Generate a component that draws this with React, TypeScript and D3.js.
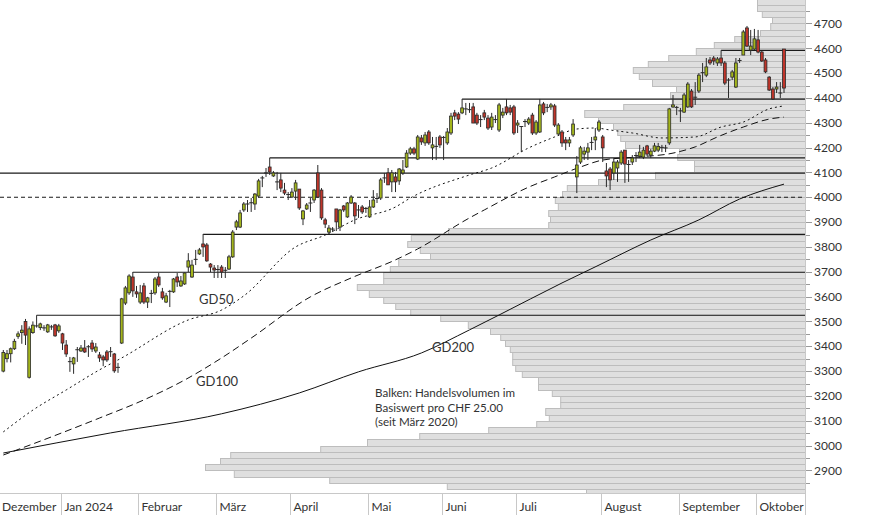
import React, { useEffect, useRef } from 'react';
import * as d3 from 'd3';

// open, high, low, close (CHF), one entry per trading day, Dec 2023 .. Oct 2024
type Candle = [number, number, number, number];

const candles: Candle[] = [
  [3300, 3385, 3295, 3375], [3350, 3385, 3335, 3370], [3370, 3395, 3335, 3390], [3390, 3430, 3385, 3420],
  [3440, 3460, 3430, 3450], [3455, 3485, 3410, 3465], [3500, 3510, 3405, 3445], [3275, 3480, 3270, 3470],
  [3455, 3500, 3450, 3485], [3480, 3525, 3475, 3482], [3475, 3495, 3465, 3490], [3475, 3485, 3462, 3474],
  [3458, 3490, 3454, 3486], [3476, 3486, 3466, 3478], [3486, 3490, 3438, 3442], [3462, 3490, 3454, 3482],
  [3450, 3454, 3385, 3413], [3405, 3425, 3357, 3369], [3340, 3357, 3297, 3338], [3329, 3357, 3289, 3353],
  [3384, 3397, 3337, 3386], [3381, 3405, 3377, 3393], [3393, 3425, 3373, 3377], [3396, 3405, 3357, 3398],
  [3413, 3425, 3377, 3389], [3381, 3413, 3373, 3397], [3365, 3377, 3337, 3353], [3357, 3365, 3320, 3345],
  [3377, 3385, 3337, 3345], [3380, 3397, 3357, 3378], [3369, 3373, 3293, 3301], [3313, 3333, 3293, 3315],
  [3413, 3595, 3409, 3591], [3574, 3643, 3566, 3635], [3615, 3690, 3607, 3683], [3679, 3699, 3599, 3623],
  [3619, 3643, 3595, 3611], [3578, 3647, 3570, 3615], [3643, 3655, 3570, 3578], [3578, 3599, 3554, 3595],
  [3611, 3627, 3574, 3613], [3615, 3679, 3607, 3671], [3679, 3695, 3639, 3647], [3619, 3635, 3587, 3595],
  [3578, 3615, 3574, 3603], [3619, 3627, 3558, 3621], [3619, 3675, 3615, 3671], [3679, 3695, 3639, 3659],
  [3643, 3683, 3639, 3663], [3651, 3697, 3647, 3695], [3719, 3775, 3699, 3744], [3679, 3748, 3675, 3727],
  [3746, 3788, 3727, 3750], [3772, 3796, 3768, 3788], [3812, 3852, 3760, 3800], [3808, 3816, 3740, 3744],
  [3731, 3735, 3699, 3719], [3715, 3727, 3675, 3707], [3707, 3727, 3675, 3709], [3719, 3727, 3675, 3699],
  [3708, 3719, 3675, 3706], [3711, 3768, 3707, 3760], [3760, 3868, 3756, 3860], [3880, 3909, 3868, 3901],
  [3880, 3949, 3876, 3937], [3949, 3981, 3941, 3973], [3971, 3989, 3941, 3973], [3975, 3997, 3941, 3978],
  [3973, 4017, 3949, 4013], [4005, 4074, 3997, 4066], [4076, 4086, 4041, 4078], [4096, 4118, 4082, 4098],
  [4122, 4159, 4090, 4102], [4086, 4106, 4082, 4098], [4060, 4102, 4029, 4062], [4070, 4098, 4021, 4037],
  [4029, 4058, 4009, 4017], [4013, 4021, 3989, 4011], [4001, 4037, 3997, 4021], [4025, 4070, 3989, 4058],
  [4033, 4033, 3949, 3957], [3913, 3949, 3888, 3945], [3953, 3977, 3949, 3969], [3975, 3997, 3941, 3977],
  [3989, 4033, 3977, 4029], [4098, 4130, 3997, 4001], [4029, 4037, 3909, 3917], [3909, 3917, 3876, 3892],
  [3860, 3888, 3852, 3876], [3870, 3880, 3860, 3872], [3953, 3953, 3864, 3901], [3880, 3953, 3864, 3949],
  [3965, 3969, 3941, 3949], [3921, 3981, 3917, 3977], [3977, 4009, 3973, 4001], [3977, 3981, 3892, 3925],
  [3947, 3969, 3917, 3949], [3961, 3969, 3933, 3941], [3953, 3961, 3937, 3955], [3921, 3989, 3917, 3961],
  [3961, 4029, 3957, 3989], [3993, 4017, 3977, 3995], [3997, 4078, 3989, 4070], [4076, 4098, 4058, 4078],
  [4098, 4118, 4050, 4050], [4062, 4110, 4021, 4098], [4082, 4102, 4021, 4062], [4066, 4118, 4050, 4114],
  [4098, 4150, 4090, 4110], [4122, 4190, 4118, 4178], [4178, 4203, 4170, 4195], [4195, 4203, 4170, 4178],
  [4154, 4251, 4150, 4243], [4239, 4251, 4211, 4223], [4219, 4263, 4207, 4251], [4263, 4271, 4211, 4219],
  [4199, 4243, 4150, 4211], [4203, 4243, 4150, 4205], [4243, 4251, 4199, 4211], [4239, 4247, 4150, 4241],
  [4219, 4279, 4211, 4263], [4259, 4340, 4251, 4327], [4340, 4352, 4311, 4327], [4335, 4343, 4295, 4315],
  [4340, 4396, 4335, 4360], [4354, 4380, 4331, 4356], [4355, 4380, 4340, 4353], [4364, 4380, 4299, 4299],
  [4331, 4340, 4291, 4299], [4311, 4331, 4283, 4313], [4340, 4352, 4311, 4323], [4319, 4331, 4271, 4279],
  [4283, 4340, 4271, 4323], [4311, 4331, 4299, 4313], [4271, 4380, 4263, 4372], [4331, 4360, 4319, 4343],
  [4364, 4396, 4331, 4340], [4360, 4372, 4331, 4343], [4364, 4372, 4251, 4259], [4291, 4311, 4259, 4299],
  [4283, 4285, 4182, 4285], [4303, 4315, 4283, 4305], [4299, 4323, 4291, 4315], [4331, 4340, 4251, 4259],
  [4259, 4311, 4251, 4303], [4263, 4396, 4259, 4372], [4376, 4384, 4331, 4340], [4360, 4376, 4343, 4362],
  [4364, 4380, 4352, 4372], [4368, 4376, 4283, 4291], [4255, 4299, 4247, 4291], [4263, 4271, 4203, 4219],
  [4231, 4243, 4190, 4219], [4219, 4243, 4203, 4231], [4251, 4315, 4243, 4295], [4082, 4166, 4017, 4130],
  [4142, 4207, 4134, 4199], [4174, 4203, 4150, 4186], [4182, 4219, 4150, 4199], [4219, 4243, 4190, 4221],
  [4231, 4279, 4190, 4243], [4271, 4311, 4263, 4303], [4243, 4251, 4142, 4199], [4106, 4138, 4041, 4086],
  [4114, 4122, 4029, 4070], [4098, 4158, 4070, 4142], [4118, 4150, 4062, 4142], [4138, 4190, 4130, 4182],
  [4190, 4190, 4058, 4134], [4130, 4150, 4062, 4132], [4142, 4170, 4130, 4158], [4166, 4182, 4142, 4168],
  [4166, 4211, 4158, 4182], [4162, 4203, 4154, 4190], [4207, 4211, 4166, 4174], [4170, 4195, 4158, 4186],
  [4186, 4219, 4182, 4207], [4190, 4219, 4182, 4205], [4199, 4211, 4182, 4201], [4201, 4211, 4182, 4199],
  [4219, 4360, 4211, 4356], [4364, 4412, 4360, 4372], [4364, 4368, 4331, 4362], [4350, 4360, 4303, 4348],
  [4343, 4420, 4340, 4412], [4364, 4464, 4360, 4456], [4428, 4436, 4360, 4364], [4405, 4464, 4372, 4403],
  [4428, 4500, 4420, 4492], [4500, 4541, 4464, 4502], [4492, 4561, 4484, 4525], [4553, 4565, 4533, 4541],
  [4561, 4569, 4533, 4549], [4541, 4565, 4529, 4557], [4561, 4592, 4529, 4541], [4541, 4549, 4452, 4460],
  [4470, 4480, 4400, 4472], [4484, 4513, 4472, 4505], [4444, 4561, 4440, 4541], [4549, 4561, 4541, 4551],
  [4573, 4674, 4573, 4666], [4682, 4690, 4605, 4609], [4593, 4674, 4573, 4609], [4597, 4678, 4593, 4638],
  [4634, 4674, 4580, 4585], [4585, 4589, 4545, 4549], [4553, 4561, 4500, 4505], [4484, 4488, 4428, 4432],
  [4436, 4444, 4392, 4396], [4436, 4464, 4420, 4444], [4418, 4464, 4400, 4420], [4597, 4597, 4420, 4440],
];

const monthLabels = ['Dezember', 'Jan 2024', 'Februar', 'März', 'April', 'Mai', 'Juni', 'Juli', 'August', 'September', 'Oktober'];
const monthStart = [0, 16, 37, 58, 78, 99, 119, 139, 162, 183, 204];

// moving averages at some days
const gd50Idx = [0, 8, 17, 26, 32, 50, 59, 65, 79, 87, 95, 106, 110, 126, 132, 142, 149, 155, 160, 164, 170, 178, 187, 194, 200, 207, 211];
const gd50 = [3055, 3143, 3224, 3305, 3353, 3506, 3546, 3603, 3800, 3848, 3909, 3961, 3997, 4090, 4118, 4199, 4243, 4275, 4279, 4271, 4259, 4239, 4243, 4283, 4303, 4356, 4368];
const gd100Idx = [0, 13, 26, 38, 49, 59, 67, 83, 94, 106, 112, 126, 130, 142, 149, 156, 162, 171, 181, 187, 193, 200, 207, 211];
const gd100 = [2962, 3035, 3111, 3184, 3264, 3353, 3433, 3599, 3675, 3748, 3792, 3917, 3949, 4041, 4082, 4122, 4150, 4162, 4178, 4203, 4243, 4283, 4315, 4323];
const gd200Idx = [0, 29, 59, 80, 96, 113, 126, 134, 151, 161, 175, 188, 199, 211];
const gd200 = [2970, 3051, 3128, 3212, 3297, 3373, 3466, 3526, 3655, 3727, 3828, 3909, 3993, 4053];

// resistance levels starting at a day's high
const levels = [3525, 3698, 3851, 4159, 4395, 4592];
const levelFrom = [9, 35, 54, 72, 124, 194];
const fullLevel = 4097;
const dashedLevel = 4000;

// volume profile, bins of CHF 25 (lower bound), relative volume
const volBins = [
  4775, 4750, 4725, 4700, 4675, 4650, 4625, 4600, 4575, 4550, 4525, 4500, 4475, 4450, 4425, 4400,
  4375, 4350, 4325, 4300, 4275, 4250, 4225, 4200, 4175, 4150, 4125, 4100, 4075, 4050, 4025, 4000,
  3975, 3950, 3925, 3900, 3875, 3850, 3825, 3800, 3775, 3750, 3725, 3700, 3675, 3650, 3625, 3600,
  3575, 3550, 3525, 3500, 3475, 3450, 3425, 3400, 3375, 3350, 3325, 3300, 3275, 3250, 3225, 3200,
  3175, 3150, 3125, 3100, 3075, 3050, 3025, 3000, 2975, 2950, 2925, 2900, 2875, 2850, 2825, 2800,
];
const volumes = [
  8.0, 8.0, 7.2, 5.5, 5.8, 7.5, 11.8, 15.2, 18.2, 22.8, 26.2, 28.7, 27.7, 25.5, 21.5, 22.5,
  22.2, 30.3, 36.8, 34.5, 32.0, 31.3, 30.8, 30.0, 21.0, 21.3, 18.5, 18.5, 25.0, 34.5, 39.7, 40.5,
  41.7, 41.2, 42.8, 42.5, 42.8, 59.5, 65.7, 66.3, 64.2, 62.5, 67.8, 69.2, 70.3, 70.3, 74.7, 72.7,
  70.3, 68.3, 65.8, 60.8, 56.2, 52.5, 50.8, 50.0, 49.2, 48.8, 48.8, 48.3, 47.2, 44.5, 44.5, 42.2,
  40.8, 40.8, 43.3, 42.7, 44.8, 52.8, 64.3, 73.0, 80.8, 95.8, 97.5, 100.0, 95.2, 79.3, 59.7, 36.5,
];

const yLabels = [2900, 3000, 3100, 3200, 3300, 3400, 3500, 3600, 3700, 3800, 3900, 4000, 4100, 4200, 4300, 4400, 4500, 4600, 4700];
const noteLines = ['Balken: Handelsvolumen im', 'Basiswert pro CHF 25.00', '(seit März 2020)'];

const FONT = 'Lato, "Open Sans", sans-serif';

export default function App() {
  const svgRef = useRef<SVGSVGElement>(null);

  useEffect(() => {
    if (!svgRef.current) return;
    const svg = d3.select(svgRef.current);
    svg.selectAll('*').remove();

    const plotR = 805;
    const plotB = 493;

    const x = d3.scaleLinear().domain([0, candles.length - 1]).range([3.3, 784]);
    const step = x(1) - x(0);
    const y = d3.scaleLinear().domain([2809, 4794.6]).range([plotB, 0]);
    const vx = d3.scaleLinear().domain([0, 100]).range([plotR, plotR - 600]);

    svg.append('rect').attr('width', 874).attr('height', 515).attr('fill', '#fff');

    svg
      .append('defs')
      .append('clipPath')
      .attr('id', 'plot')
      .append('rect')
      .attr('width', plotR)
      .attr('height', plotB);

    const plot = svg.append('g').attr('clip-path', 'url(#plot)');

    // volume profile
    plot
      .append('g')
      .selectAll('rect')
      .data(volBins)
      .enter()
      .append('rect')
      .attr('x', (d, i) => vx(volumes[i]) + 0.5)
      .attr('y', (d) => Math.round(y(d + 25)) + 0.5)
      .attr('width', (d, i) => plotR - vx(volumes[i]))
      .attr('height', (d) => Math.round(y(d)) - Math.round(y(d + 25)))
      .attr('fill', '#dfdfdf')
      .attr('stroke', '#bdbdbd')
      .attr('stroke-width', 1);

    // levels
    plot
      .append('line')
      .attr('x1', 0)
      .attr('x2', plotR)
      .attr('y1', y(fullLevel))
      .attr('y2', y(fullLevel))
      .attr('stroke', '#1a1a1a')
      .attr('stroke-width', 1.2);
    plot
      .append('line')
      .attr('x1', 0)
      .attr('x2', plotR)
      .attr('y1', y(dashedLevel))
      .attr('y2', y(dashedLevel))
      .attr('stroke', '#1a1a1a')
      .attr('stroke-width', 1.1)
      .attr('stroke-dasharray', '4,3');
    levels.forEach((lv, i) => {
      plot
        .append('line')
        .attr('x1', x(levelFrom[i]))
        .attr('x2', plotR)
        .attr('y1', y(lv))
        .attr('y2', y(lv))
        .attr('stroke', '#1a1a1a')
        .attr('stroke-width', 1.2);
    });

    // moving averages
    const maLine = (idx: number[], vals: number[], dash: string | null) => {
      const pts = idx.map((d, i) => [x(d), y(vals[i])] as [number, number]);
      plot
        .append('path')
        .datum(pts)
        .attr('fill', 'none')
        .attr('stroke', '#111')
        .attr('stroke-width', 1)
        .attr('stroke-dasharray', dash)
        .attr('d', d3.line().curve(d3.curveMonotoneX));
    };
    maLine(gd200Idx, gd200, null);
    maLine(gd100Idx, gd100, '7,4');
    maLine(gd50Idx, gd50, '2,3');

    // candles
    const cg = plot.append('g');
    candles.forEach(([o, h, l, c], i) => {
      const cx = x(i);
      cg.append('line')
        .attr('x1', cx)
        .attr('x2', cx)
        .attr('y1', y(h))
        .attr('y2', y(l))
        .attr('stroke', '#2a2a2a')
        .attr('stroke-width', 1);
      const top = y(Math.max(o, c));
      const bot = y(Math.min(o, c));
      if (bot - top < 1.2) {
        cg.append('line')
          .attr('x1', cx - 2)
          .attr('x2', cx + 2)
          .attr('y1', y(c))
          .attr('y2', y(c))
          .attr('stroke', '#2a2a2a')
          .attr('stroke-width', 1);
      } else {
        cg.append('rect')
          .attr('x', cx - step * 0.38)
          .attr('width', step * 0.76)
          .attr('y', top)
          .attr('height', bot - top)
          .attr('fill', c >= o ? '#a3b51c' : '#c0352a')
          .attr('stroke', '#2a2a2a')
          .attr('stroke-width', 0.8);
      }
    });

    // annotations
    const note = svg.append('g').attr('font-family', FONT).attr('fill', '#333');
    note.append('text').attr('x', 199).attr('y', 304).attr('font-size', 13).text('GD50');
    note.append('text').attr('x', 196).attr('y', 386).attr('font-size', 13).text('GD100');
    note.append('text').attr('x', 432).attr('y', 352).attr('font-size', 13).text('GD200');
    noteLines.forEach((t, i) => {
      note
        .append('text')
        .attr('x', 375)
        .attr('y', 397 + i * 14.5)
        .attr('font-size', 11.6)
        .text(t);
    });

    // y axis (right)
    const ax = svg.append('g');
    ax.append('line')
      .attr('x1', plotR + 0.5)
      .attr('x2', plotR + 0.5)
      .attr('y1', 0)
      .attr('y2', 515)
      .attr('stroke', '#c8c8c8');
    d3.range(2850, 4800, 50).forEach((v) => {
      const major = v % 100 === 0;
      ax.append('line')
        .attr('x1', plotR + 1)
        .attr('x2', plotR + (major ? 7 : 5))
        .attr('y1', Math.round(y(v)) + 0.5)
        .attr('y2', Math.round(y(v)) + 0.5)
        .attr('stroke', '#999');
    });
    ax.selectAll('text.yl')
      .data(yLabels)
      .enter()
      .append('text')
      .attr('class', 'yl')
      .attr('x', plotR + 9)
      .attr('y', (d) => y(d))
      .attr('dy', '0.35em')
      .attr('font-family', FONT)
      .attr('font-size', 12)
      .attr('fill', '#333')
      .text((d) => d);

    // x axis (bottom)
    ax.append('line')
      .attr('x1', 0)
      .attr('x2', plotR)
      .attr('y1', plotB + 0.5)
      .attr('y2', plotB + 0.5)
      .attr('stroke', '#c8c8c8');
    monthStart.forEach((m, i) => {
      const sx = Math.round(x(m) - step / 2) + 0.5;
      if (i > 0) {
        ax.append('line')
          .attr('x1', sx)
          .attr('x2', sx)
          .attr('y1', plotB)
          .attr('y2', 515)
          .attr('stroke', '#c8c8c8');
      }
      ax.append('text')
        .attr('x', i === 0 ? 2 : sx + 3)
        .attr('y', 511)
        .attr('font-family', FONT)
        .attr('font-size', 12)
        .attr('fill', '#333')
        .text(monthLabels[i]);
    });
  }, []);

  return (
    <svg
      ref={svgRef}
      width={874}
      height={515}
      style={{ position: 'absolute', left: 0, top: 0, display: 'block' }}
    />
  );
}
